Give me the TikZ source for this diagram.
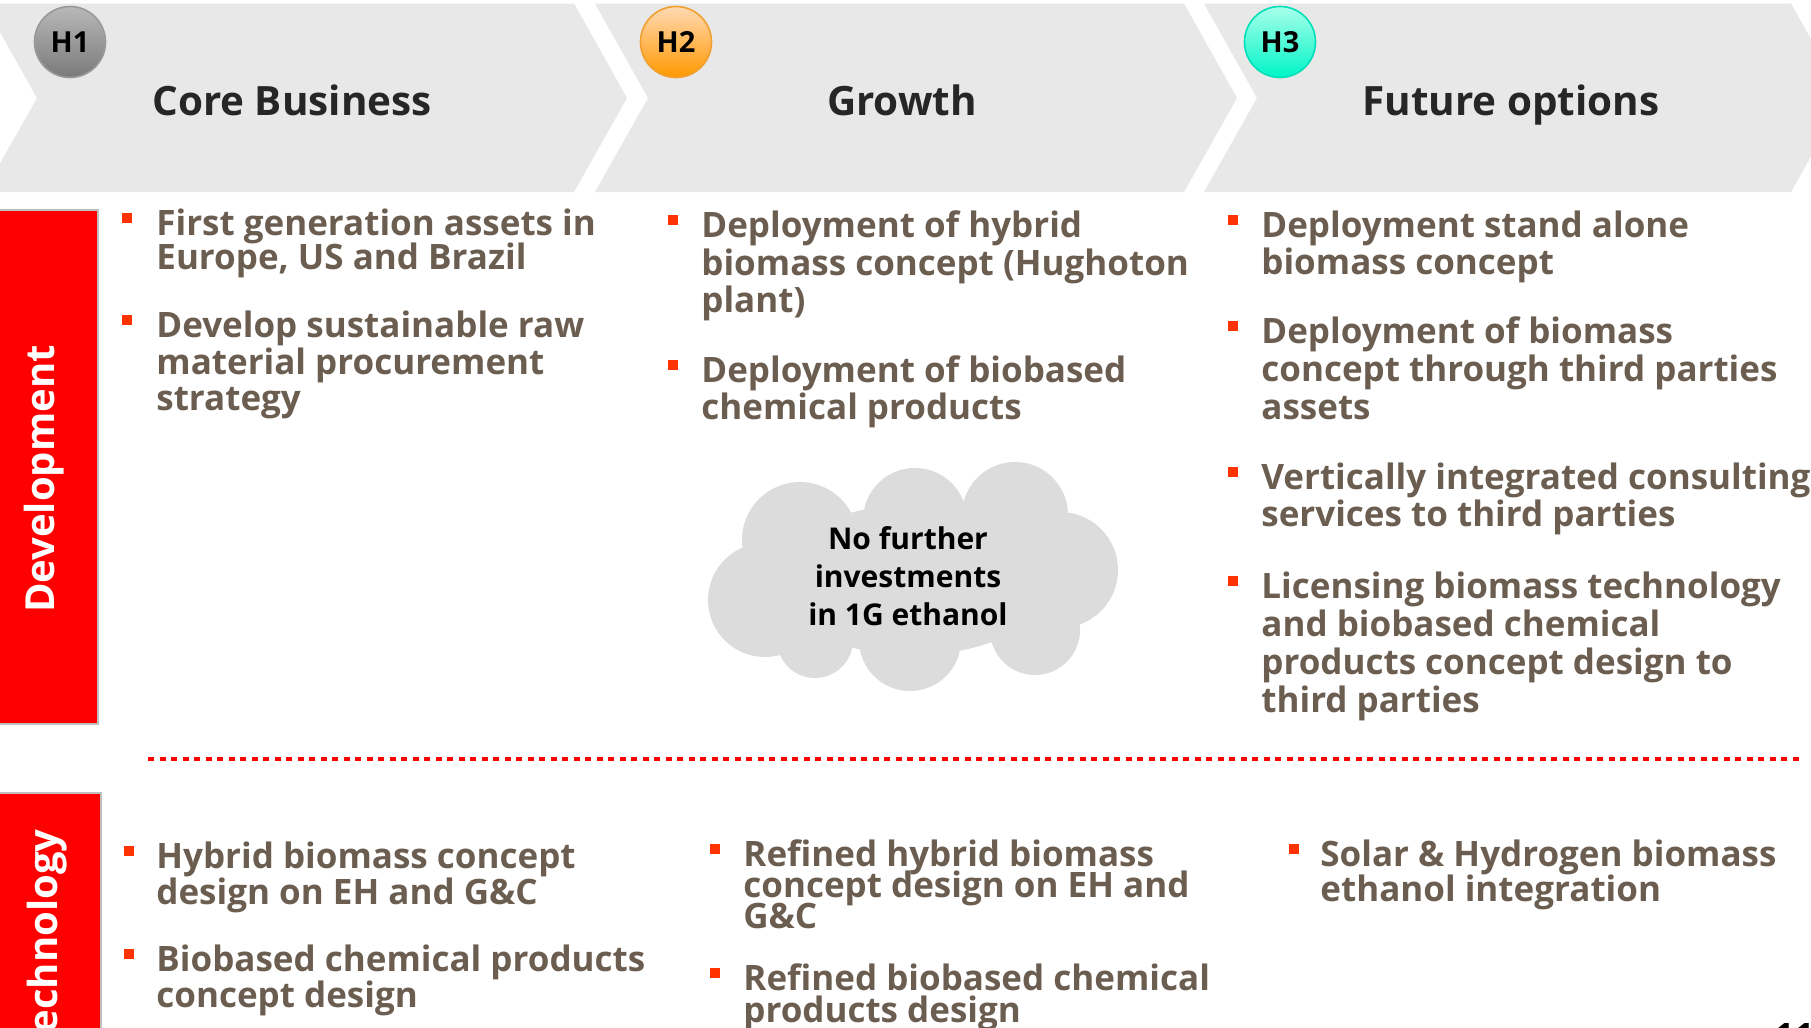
\documentclass[tikz,border=0pt]{standalone}
\usepackage{fontspec}
\setmainfont{Open Sans}
\definecolor{chevgray}{HTML}{E8E8E8}
\definecolor{itemcol}{HTML}{6B5E51}
\definecolor{bulcol}{HTML}{FF3300}
\definecolor{boxred}{HTML}{FF0000}
\definecolor{headcol}{HTML}{262626}
\definecolor{cloudcol}{HTML}{DCDCDC}
\newcommand\tightls{\lineskiplimit=-30pt\relax}
\newcommand\bul[6]{%
  \node[itemtxt, font={\bfseries\fontsize{17.5}{#6}\selectfont\tightls}] (#1) at (#3,#4-22.5) {\rule{0pt}{1em}#5};
  \node[bsq] (#1b) at (#2,#4-5) {};}
\begin{document}
\begin{tikzpicture}[x=0.5pt,y=-0.5pt,
  chev/.style={fill=chevgray},
  itemtxt/.style={anchor=north west, inner sep=0pt, align=left, text=itemcol},
  bsq/.style={fill=bulcol, minimum size=5pt, inner sep=0pt},
  head/.style={anchor=base, inner sep=0pt, text=headcol, font=\bfseries\fontsize{20.2}{24}\selectfont},
  badge/.style={circle, minimum size=35.5pt, inner sep=0pt, font=\bfseries\fontsize{14.5}{16}\selectfont, text=black, line width=0.8pt},
  sidebox/.style={fill=boxred, draw=black!25, line width=1pt},
  sidelbl/.style={rotate=90, inner sep=0pt, text=white, font=\bfseries\fontsize{20}{24}\selectfont},
  reddots/.style={draw=boxred, line width=2.3pt, dash pattern=on 3pt off 2.75pt},
  cloudtxt/.style={align=center, inner sep=0pt, text=black, font={\bfseries\fontsize{15}{19}\selectfont\tightls}}
]
\useasboundingbox (0,0) rectangle (1811,1028);
\fill[white] (0,0) rectangle (1811,1028);
% chevrons
\fill[chev] (-16,3.5) -- (574,3.5) -- (627,98) -- (574,192) -- (-16,192) -- (37,98) -- cycle;
\fill[chev] (595,3.5) -- (1184,3.5) -- (1237,98) -- (1184,192) -- (595,192) -- (648,98) -- cycle;
\fill[chev] (1204,3.5) -- (1791,3.5) -- (1844,98) -- (1791,192) -- (1204,192) -- (1257,98) -- cycle;
% badges
\node[badge, top color=black!28, bottom color=black!52, draw=black!40] (h1) at (70,42) {H1};
\node[badge, top color=orange!30, bottom color={rgb,255:red,255;green,153;blue,0}, draw={rgb,255:red,240;green,160;blue,48}] (h2) at (676,42) {H2};
\node[badge, top color={rgb,255:red,168;green,255;blue,234}, bottom color={rgb,255:red,0;green,245;blue,200}, draw={rgb,255:red,0;green,224;blue,184}] (h3) at (1280,42) {H3};
% headers
\node[head] (hd1) at (292,115) {Core Business};
\node[head] (hd2) at (902,115) {Growth};
\node[head] (hd3) at (1511,115) {Future options};
% side boxes
\draw[sidebox] (-2,210) rectangle (98,724);
\node[sidelbl] (dev) at (44,479) {Development};
\draw[sidebox] (-2,793) rectangle (101,1040);
\node[sidelbl, anchor=east] (tech) at (47,829) {Technology};
% dotted separator
\coordinate (dl) at (148,759);
\coordinate (dr) at (1802,759);
\draw[reddots] (dl) -- (dr);
% development items
\bul{d1a}{127}{156}{223}{First generation assets in\\Europe, US and Brazil}{16.8}
\bul{d1b}{127}{156}{325}{Develop sustainable raw\\material procurement\\strategy}{18.2}
\bul{d2a}{673}{701}{225}{Deployment of hybrid\\biomass concept (Hughoton\\plant)}{18.7}
\bul{d2b}{673}{701}{370}{Deployment of biobased\\chemical products}{18.5}
\bul{d3a}{1233}{1261}{225}{Deployment stand alone\\biomass concept}{18.5}
\bul{d3b}{1233}{1261}{331}{Deployment of biomass\\concept through third parties\\assets}{18.8}
\bul{d3c}{1233}{1261}{477}{Vertically integrated consulting\\services to third parties}{18.5}
\bul{d3d}{1233}{1261}{586}{Licensing biomass technology\\and biobased chemical\\products concept design to\\third parties}{18.9}
% technology items
\bul{t1a}{129}{156}{856}{Hybrid biomass concept\\design on EH and G\&C}{17.9}
\bul{t1b}{129}{156}{959}{Biobased chemical products\\concept design}{17.9}
\bul{t2a}{715}{743}{854}{Refined hybrid biomass\\concept design on EH and\\G\&C}{15.3}
\bul{t2b}{715}{743}{978}{Refined biobased chemical\\products design}{15.6}
\bul{t3a}{1294}{1320}{854}{Solar \& Hydrogen biomass\\ethanol integration}{17.3}
% cloud
\begin{scope}
\fill[cloudcol] (913,580) ellipse [x radius=140, y radius=75];
\fill[cloudcol] (800,540) circle [radius=58];
\fill[cloudcol] (765,600) circle [radius=57];
\fill[cloudcol] (915,520) circle [radius=52];
\fill[cloudcol] (1015,515) circle [radius=53];
\fill[cloudcol] (1060,570) circle [radius=58];
\fill[cloudcol] (1035,630) circle [radius=45];
\fill[cloudcol] (910,640) circle [radius=51];
\fill[cloudcol] (815,640) circle [radius=38];
\end{scope}
\node[cloudtxt] (cl) at (908,576) {No further\\investments\\in 1G ethanol};
% page number
\node[anchor=north west, inner sep=0pt, font=\bfseries\fontsize{17.5}{20}\selectfont] (pg) at (1774,1023) {11};
\end{tikzpicture}
\end{document}
